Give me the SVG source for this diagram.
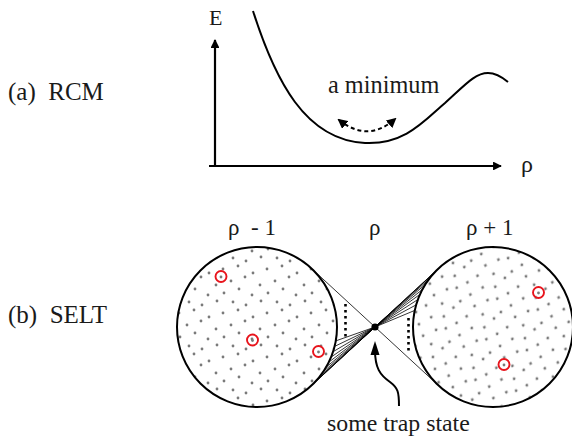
<svg xmlns="http://www.w3.org/2000/svg" width="572" height="437" viewBox="0 0 572 437">
<style>
text{font-family:'Liberation Serif','Times New Roman',serif;fill:#1a1a1a}
.ax{stroke:#000;stroke-width:2.2;fill:none}
.st{stroke:#000;stroke-width:2}
.fan{stroke:#000;stroke-width:0.8;fill:none}
.dotv{stroke:#000;stroke-width:2.6;stroke-dasharray:2.6 3.4;fill:none}
.red{fill:none;stroke:#e8141c;stroke-width:1.9}
.g{fill:#7a7a7a}
</style>
<defs>
<marker id="ah" viewBox="0 0 10 10" refX="9" refY="5" markerWidth="4" markerHeight="4" orient="auto-start-reverse" markerUnits="strokeWidth">
<path d="M0,0 L10,5 L0,10 z" fill="#000"/>
</marker>
<marker id="ahd" viewBox="0 0 10 10" refX="8" refY="5" markerWidth="5" markerHeight="5" orient="auto-start-reverse" markerUnits="strokeWidth">
<path d="M0,0 L10,5 L0,10 z" fill="#000"/>
</marker>
<pattern id="dl" width="44" height="44" patternUnits="userSpaceOnUse">
<rect width="44" height="44" fill="#fff"/>
<g class="g">
<circle cx="3" cy="5" r="1.4"/><circle cx="18" cy="2" r="1.4"/><circle cx="33" cy="9" r="1.4"/>
<circle cx="11" cy="17" r="1.4"/><circle cx="25" cy="13" r="1.4"/><circle cx="40" cy="21" r="1.4"/>
<circle cx="4" cy="29" r="1.4"/><circle cx="19" cy="25" r="1.4"/><circle cx="32" cy="31" r="1.4"/>
<circle cx="13" cy="38" r="1.4"/><circle cx="26" cy="41" r="1.4"/><circle cx="41" cy="37" r="1.4"/>
</g>
</pattern>
<pattern id="dr" width="42" height="42" patternUnits="userSpaceOnUse" patternTransform="translate(7,11) rotate(15)">
<rect width="42" height="42" fill="#fff"/>
<g class="g">
<circle cx="4" cy="3" r="1.4"/><circle cx="19" cy="8" r="1.4"/><circle cx="34" cy="2" r="1.4"/>
<circle cx="11" cy="17" r="1.4"/><circle cx="27" cy="18" r="1.4"/><circle cx="2" cy="25" r="1.4"/>
<circle cx="17" cy="28" r="1.4"/><circle cx="35" cy="29" r="1.4"/><circle cx="9" cy="37" r="1.4"/>
<circle cx="24" cy="38" r="1.4"/><circle cx="39" cy="14" r="1.4"/>
</g>
</pattern>
</defs>

<g id="labels">
<text x="8" y="100" font-size="25" xml:space="preserve">(a)  RCM</text>
<text x="8" y="323" font-size="25" xml:space="preserve">(b)  SELT</text>
</g>

<g id="plot-a">
<line class="ax" x1="215" y1="167" x2="215" y2="40" marker-end="url(#ah)"/>
<line class="ax" x1="209" y1="166" x2="501" y2="166" marker-end="url(#ah)"/>
<text x="209" y="25" font-size="22">E</text>
<text x="521" y="172" font-size="24">ρ</text>
<path d="M253,11 C275,80 305,140 365,143 C405,145 425,120 445,103 C465,85 475,73 488,73 C496,73 502,77 508,82" fill="none" stroke="#000" stroke-width="2"/>
<text x="328" y="93" font-size="24.3">a minimum</text>
<path d="M339,120 Q368,143 395,119" fill="none" stroke="#000" stroke-width="2" stroke-dasharray="4 3" marker-start="url(#ahd)" marker-end="url(#ahd)"/>
</g>

<g id="connectors">
<line class="fan" x1="311.2" y1="268.2" x2="438.8" y2="385.8"/>
<g class="fan">
<line x1="375" y1="327" x2="335.8" y2="340.9"/>
<line x1="375" y1="327" x2="334.6" y2="346.4"/>
<line x1="375" y1="327" x2="333.1" y2="351.7"/>
<line x1="375" y1="327" x2="331.2" y2="357.0"/>
<line x1="375" y1="327" x2="328.9" y2="362.1"/>
<line x1="375" y1="327" x2="326.3" y2="367.0"/>
<line x1="375" y1="327" x2="323.3" y2="371.7"/>
<line x1="375" y1="327" x2="320.0" y2="376.3"/>
<line x1="375" y1="327" x2="316.4" y2="380.5"/>
<line x1="375" y1="327" x2="313.4" y2="383.8"/>
<line x1="375" y1="327" x2="311.2" y2="385.8"/>
<line x1="375" y1="327" x2="414.8" y2="310.4"/>
<line x1="375" y1="327" x2="416.1" y2="304.9"/>
<line x1="375" y1="327" x2="417.8" y2="299.6"/>
<line x1="375" y1="327" x2="419.9" y2="294.4"/>
<line x1="375" y1="327" x2="422.4" y2="289.5"/>
<line x1="375" y1="327" x2="425.2" y2="284.6"/>
<line x1="375" y1="327" x2="428.3" y2="280.0"/>
<line x1="375" y1="327" x2="431.7" y2="275.6"/>
<line x1="375" y1="327" x2="435.5" y2="271.4"/>
<line x1="375" y1="327" x2="438.8" y2="268.2"/>
</g>
<line class="dotv" x1="345.5" y1="304" x2="345.5" y2="338"/>
<line class="dotv" x1="408.5" y1="318" x2="408.5" y2="353"/>
<path d="M399,406 C399,392 398,388 390,382 C380,375 375,368 375,350" fill="none" stroke="#000" stroke-width="2"/>
<path d="M375,341 L370.5,355 L379.5,355 z" fill="#000"/>
</g>

<g id="state-left">
<circle class="st" cx="257" cy="327" r="80" fill="url(#dl)"/>
<circle class="red" cx="221" cy="276.5" r="5.5"/>
<circle class="red" cx="252.5" cy="340" r="5.5"/>
<circle class="red" cx="318.5" cy="351.5" r="5.5"/>
<g class="g"><circle cx="221" cy="277" r="1.4"/><circle cx="252.5" cy="340.5" r="1.4"/><circle cx="318.5" cy="352" r="1.4"/></g>
<text x="228" y="235" font-size="23" xml:space="preserve">ρ  - 1</text>
</g>

<g id="state-right">
<circle class="st" cx="493" cy="327" r="80" fill="url(#dr)"/>
<circle class="red" cx="538.5" cy="292.5" r="5.5"/>
<circle class="red" cx="504" cy="364.5" r="5.5"/>
<g class="g"><circle cx="538.5" cy="293" r="1.4"/><circle cx="504" cy="365" r="1.4"/></g>
<text x="466" y="235" font-size="23">ρ + 1</text>
</g>

<g id="trap">
<circle cx="375" cy="327" r="3.6" fill="#000"/>
<text x="369" y="235" font-size="23">ρ</text>
<text x="327" y="431" font-size="23.8">some trap state</text>
</g>
</svg>
